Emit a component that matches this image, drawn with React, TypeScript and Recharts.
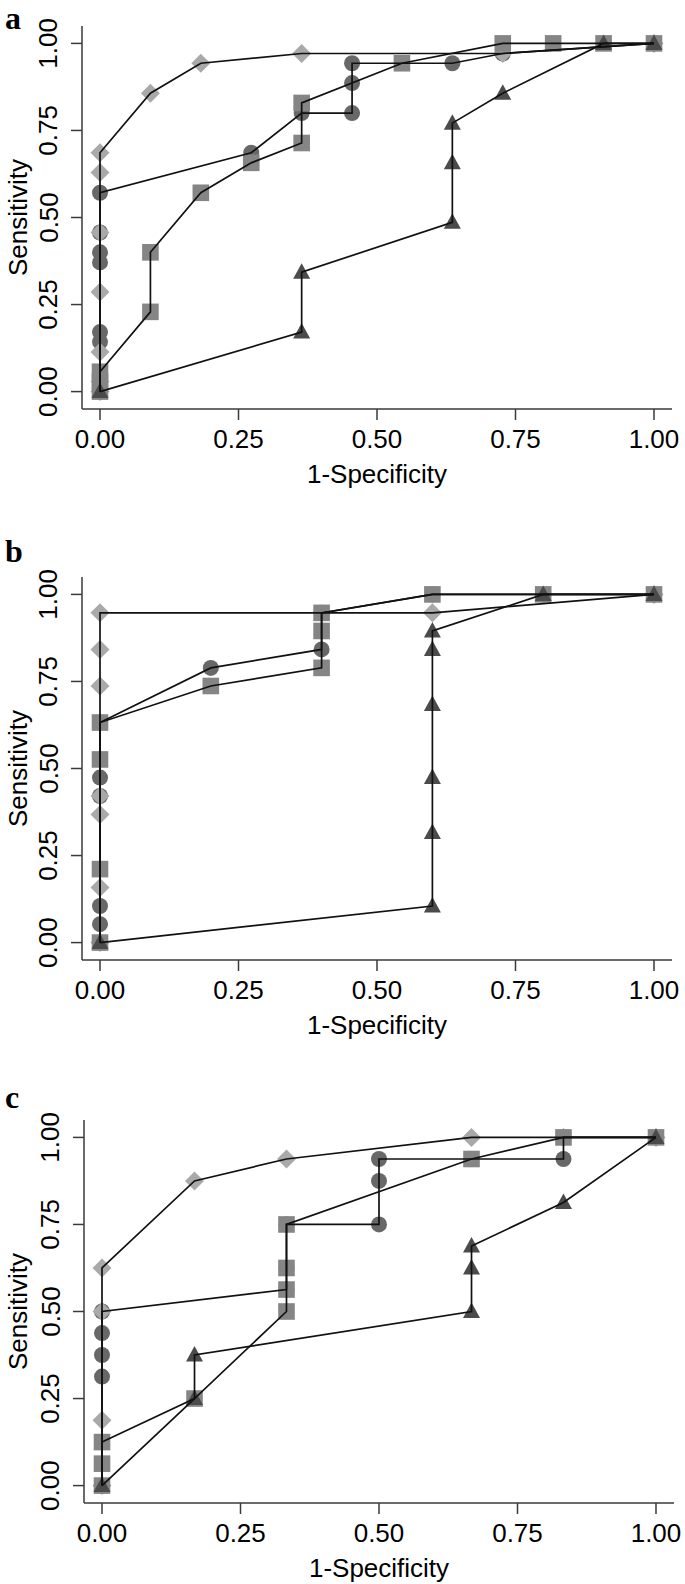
import React from "react";
import { ScatterChart, Scatter, XAxis, YAxis } from "recharts";

type Pt = [number, number];

// panel a (35 positives, 11 negatives)
const aDiamond: Pt[] = [[0, 0], [0, 0.029], [0, 0.114], [0, 0.286], [0, 0.457], [0, 0.629], [0, 0.686], [0.091, 0.857], [0.182, 0.943], [0.364, 0.971], [0.727, 0.971], [1, 1]];
const aCircle: Pt[] = [[0, 0], [0, 0.143], [0, 0.171], [0, 0.371], [0, 0.4], [0, 0.457], [0, 0.571], [0.273, 0.686], [0.364, 0.8], [0.455, 0.8], [0.455, 0.886], [0.455, 0.943], [0.636, 0.943], [0.727, 0.971], [1, 1]];
const aSquare: Pt[] = [[0, 0], [0, 0.029], [0, 0.057], [0.091, 0.229], [0.091, 0.4], [0.182, 0.571], [0.273, 0.657], [0.364, 0.714], [0.364, 0.829], [0.545, 0.943], [0.727, 1], [0.818, 1], [0.909, 1], [1, 1]];
const aTriangle: Pt[] = [[0, 0], [0.364, 0.171], [0.364, 0.343], [0.636, 0.486], [0.636, 0.657], [0.636, 0.771], [0.727, 0.857], [0.909, 1], [1, 1]];

// panel b (19 positives, 5 negatives)
const bDiamond: Pt[] = [[0, 0], [0, 0.158], [0, 0.368], [0, 0.421], [0, 0.737], [0, 0.842], [0, 0.947], [0.6, 0.947], [1, 1]];
const bCircle: Pt[] = [[0, 0], [0, 0.053], [0, 0.105], [0, 0.421], [0, 0.474], [0, 0.632], [0.2, 0.789], [0.4, 0.842], [0.4, 0.947], [0.6, 1], [0.8, 1], [1, 1]];
const bSquare: Pt[] = [[0, 0], [0, 0.211], [0, 0.526], [0, 0.632], [0.2, 0.737], [0.4, 0.789], [0.4, 0.895], [0.4, 0.947], [0.6, 1], [0.8, 1], [1, 1]];
const bTriangle: Pt[] = [[0, 0], [0.6, 0.105], [0.6, 0.316], [0.6, 0.474], [0.6, 0.684], [0.6, 0.842], [0.6, 0.895], [0.8, 1], [1, 1]];

// panel c (16 positives, 6 negatives)
const cDiamond: Pt[] = [[0, 0], [0, 0.188], [0, 0.5], [0, 0.625], [0.167, 0.875], [0.333, 0.938], [0.667, 1], [0.833, 1], [1, 1]];
const cCircle: Pt[] = [[0, 0], [0, 0.313], [0, 0.375], [0, 0.438], [0, 0.5], [0.333, 0.563], [0.333, 0.625], [0.333, 0.75], [0.5, 0.75], [0.5, 0.875], [0.5, 0.938], [0.833, 0.938], [0.833, 1], [1, 1]];
const cSquare: Pt[] = [[0, 0], [0, 0.063], [0, 0.125], [0.167, 0.25], [0.333, 0.5], [0.333, 0.563], [0.333, 0.625], [0.333, 0.75], [0.667, 0.938], [0.833, 1], [1, 1]];
const cTriangle: Pt[] = [[0, 0], [0.167, 0.25], [0.167, 0.375], [0.667, 0.5], [0.667, 0.625], [0.667, 0.688], [0.833, 0.813], [1, 1]];

const xTicks = [0, 0.25, 0.5, 0.75, 1];
const yTicks = [0, 0.25, 0.5, 0.75, 1];
const panelLetters = ["a", "b", "c"];
const xTitle = "1-Specificity";
const yTitle = "Sensitivity";

const SANS = '"Liberation Sans", Arial, Helvetica, sans-serif';
const SERIF = '"Liberation Serif", "Times New Roman", serif';
const AXIS = { stroke: "#3a3a3a", strokeWidth: 1.5 };

const PLOT_TOP = 26;
const PLOT_H = 383;
const AXIS_W = 82;
const CHART_H = 500;

const toRows = (pts: Pt[]) => pts.map(([x, y]) => ({ x, y }));

const Diamond = (p: any) => (
  <path d={`M${p.cx},${p.cy - 9.5}L${p.cx + 9.5},${p.cy}L${p.cx},${p.cy + 9.5}L${p.cx - 9.5},${p.cy}Z`} fill="#a9a9a9" />
);
const Dot = (p: any) => <circle cx={p.cx} cy={p.cy} r={8} fill="#686868" />;
const Box = (p: any) => <rect x={p.cx - 8.3} y={p.cy - 8.3} width={16.6} height={16.6} fill="#858585" />;
const Tri = (p: any) => (
  <path d={`M${p.cx},${p.cy - 9}L${p.cx + 8.5},${p.cy + 6.5}L${p.cx - 8.5},${p.cy + 6.5}Z`} fill="#4b4b4b" />
);
const NoMark = () => <g />;

const XTick = (p: any) => (
  <text x={p.x} y={PLOT_TOP + PLOT_H + 39} textAnchor="middle" fontFamily={SANS} fontSize={26} fill="#000">
    {Number(p.payload.value).toFixed(2)}
  </text>
);
const YTick = (p: any) => (
  <text x={57.5} y={p.y} transform={`rotate(-90 57.5 ${p.y})`} textAnchor="middle" fontFamily={SANS} fontSize={26} fill="#000">
    {Number(p.payload.value).toFixed(2)}
  </text>
);

// letterY: baseline of the panel letter, relative to the panel top
const panels = [
  { top: 0, left: 0, letterY: 29, series: [aCircle, aDiamond, aSquare, aTriangle] },
  { top: 551, left: 0, letterY: 11, series: [bCircle, bDiamond, bSquare, bTriangle] },
  { top: 1094, left: 2, letterY: 14, series: [cCircle, cDiamond, cSquare, cTriangle] },
];
const shapes = [Dot, Diamond, Box, Tri];

function Panel({ top, left, series }: { top: number; left: number; series: Pt[][] }) {
  return (
    <div style={{ position: "absolute", top, left }}>
      <ScatterChart width={685 - left} height={CHART_H} margin={{ top: PLOT_TOP, right: 13 - left, bottom: 0, left: 0 }}>
        <XAxis
          type="number"
          dataKey="x"
          domain={[-0.0325, 1.0325]}
          ticks={xTicks}
          interval={0}
          allowDataOverflow
          tickSize={11}
          height={CHART_H - PLOT_TOP - PLOT_H}
          axisLine={AXIS}
          tickLine={AXIS}
          tick={XTick}
        />
        <YAxis
          type="number"
          dataKey="y"
          domain={[-0.05, 1.05]}
          ticks={yTicks}
          interval={0}
          allowDataOverflow
          tickSize={11}
          width={AXIS_W}
          axisLine={AXIS}
          tickLine={AXIS}
          tick={YTick}
        />
        {series.map((pts, i) => (
          <Scatter key={"m" + i} data={toRows(pts)} shape={shapes[i]} isAnimationActive={false} />
        ))}
        {series.map((pts, i) => (
          <Scatter
            key={"l" + i}
            data={toRows(pts)}
            shape={NoMark}
            line={{ stroke: "#111", strokeWidth: 1.7 }}
            lineType="joint"
            isAnimationActive={false}
          />
        ))}
      </ScatterChart>
    </div>
  );
}

export default function App() {
  return (
    <div style={{ position: "absolute", left: 0, top: 0, width: 685, height: 1584, background: "#fff", overflow: "hidden" }}>
      {panels.map((p, i) => (
        <Panel key={i} top={p.top} left={p.left} series={p.series} />
      ))}
      <svg width={685} height={1584} style={{ position: "absolute", left: 0, top: 0, pointerEvents: "none" }}>
        {panels.map((p, i) => {
          const midY = p.top + PLOT_TOP + PLOT_H / 2;
          return (
            <g key={i}>
              <text x={5} y={p.top + p.letterY} fontFamily={SERIF} fontWeight="bold" fontSize={32} fill="#000">
                {panelLetters[i]}
              </text>
              <text x={p.left + 377} y={p.top + PLOT_TOP + PLOT_H + 74} textAnchor="middle" fontFamily={SANS} fontSize={26} fill="#000">
                {xTitle}
              </text>
              <text x={27} y={midY} transform={`rotate(-90 27 ${midY})`} textAnchor="middle" fontFamily={SANS} fontSize={26} fill="#000">
                {yTitle}
              </text>
            </g>
          );
        })}
      </svg>
    </div>
  );
}
